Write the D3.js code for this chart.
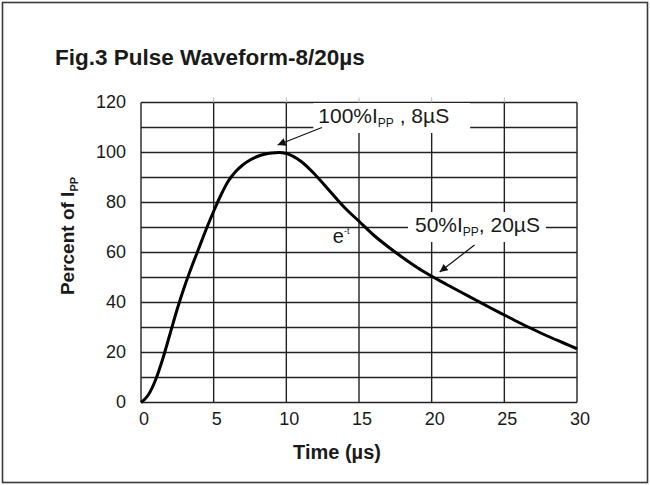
<!DOCTYPE html>
<html>
<head>
<meta charset="UTF-8">
<title>Pulse Waveform 8/20us</title>
<script src="https://d3js.org/d3.v7.min.js"></script>
<style>
  body { margin: 0; background: #fff; }
  text { font-family: "Liberation Sans", Arial, sans-serif; fill: #1a1a1a; }
</style>
</head>
<body>
<div id="chart"></div>
<script>
// waveform (time in µs, percent of Ipp)
var timeUs = [0, 0.5, 1, 1.5, 2, 2.5, 3, 3.5, 4, 4.5, 5, 5.5, 6, 6.5, 7, 7.5, 8, 8.5, 9, 9.5,
              10, 11, 12, 13, 14, 15, 16, 17, 18, 19, 20, 21, 22, 23, 24, 25, 26, 27, 28, 29, 30];
var percentIpp = [0, 3, 9, 17.5, 27.5, 37.5, 46.5, 54.5, 62, 69.5, 76.5, 83, 88.5, 92.3, 95, 97, 98.4, 99.3, 99.8, 100,
                  99.6, 96.5, 91, 84.5, 78, 72.5, 67, 62.3, 58, 54, 50.5, 47.3, 44.2, 41.1, 38, 35, 32, 29.2, 26.5, 24, 21.5];

var xTicks = [0, 5, 10, 15, 20, 25, 30];
var yTicks = [0, 20, 40, 60, 80, 100, 120];
var yGrid = [0, 10, 20, 30, 40, 50, 60, 70, 80, 90, 100, 110, 120];

var W = 650, H = 485;
var svg = d3.select("#chart").append("svg")
    .attr("width", W).attr("height", H);

// outer frame of the figure
svg.append("rect")
    .attr("x", 2.5).attr("y", 2.5).attr("width", W - 5).attr("height", H - 5)
    .attr("fill", "none").attr("stroke", "#3a3a3a").attr("stroke-width", 1.6);

var x = d3.scaleLinear().domain([0, 30]).range([141, 577]);
var y = d3.scaleLinear().domain([0, 120]).range([402.5, 102.5]);

// title
svg.append("text")
    .attr("x", 55).attr("y", 65)
    .style("font-size", "22.5px").style("font-weight", "bold")
    .text("Fig.3 Pulse Waveform-8/20µs");

// grid
var grid = svg.append("g").attr("stroke", "#222").attr("stroke-width", 1.4);
grid.selectAll(".h").data(yGrid).enter().append("line")
    .attr("x1", x(0)).attr("x2", x(30))
    .attr("y1", d => y(d)).attr("y2", d => y(d));
grid.selectAll(".v").data(xTicks).enter().append("line")
    .attr("x1", d => x(d)).attr("x2", d => x(d))
    .attr("y1", y(0)).attr("y2", y(120));
// small stubs above the top of the frame
grid.selectAll(".stub").data(xTicks.slice(1, -1)).enter().append("line")
    .attr("x1", d => x(d)).attr("x2", d => x(d))
    .attr("y1", y(120)).attr("y2", y(120) - 5)
    .attr("stroke", "#bbb").attr("stroke-width", 1);

// tick labels
svg.append("g").selectAll("text").data(yTicks).enter().append("text")
    .attr("x", 126).attr("y", d => y(d) + 1)
    .attr("text-anchor", "end").attr("dominant-baseline", "middle")
    .style("font-size", "18px")
    .text(d => d);
svg.append("g").selectAll("text").data(xTicks).enter().append("text")
    .attr("x", d => x(d) + 3).attr("y", 425)
    .attr("text-anchor", "middle")
    .style("font-size", "18px")
    .text(d => d);

// axis titles
svg.append("text")
    .attr("x", 337).attr("y", 459)
    .attr("text-anchor", "middle")
    .style("font-size", "20px").style("font-weight", "bold")
    .text("Time (µs)");

var yt = svg.append("text")
    .attr("transform", "translate(74,236) rotate(-90)")
    .attr("text-anchor", "middle")
    .style("font-size", "19px").style("font-weight", "bold");
yt.append("tspan").text("Percent of I");
yt.append("tspan").attr("dy", 4).style("font-size", "11px").text("PP");

// annotations: label text broken into the grid on a white patch
function label(tx, ty, main, tail, padL, padR) {
  var g = svg.append("g");
  var bg = g.append("rect").attr("fill", "#fff");
  var t = g.append("text")
      .attr("x", x(tx)).attr("y", y(ty))
      .style("font-size", "21px");
  t.append("tspan").text(main);
  t.append("tspan").attr("dy", 4).style("font-size", "12px").text("PP");
  t.append("tspan").attr("dy", -4).text(tail);
  var b = t.node().getBBox();
  bg.attr("x", b.x - padL).attr("y", b.y - 1)
    .attr("width", b.width + padL + padR).attr("height", b.height + 4);
}
label(12.2, 111.8, "100%I", " , 8µS", 5, 21);
label(18.85, 68.2, "50%I", ", 20µS", 7, 6);

var e = svg.append("text")
    .attr("x", x(13.2)).attr("y", y(63.8))
    .style("font-size", "20px");
e.append("tspan").text("e");
e.append("tspan").attr("dy", -9).style("font-size", "9px").text("-t");

// waveform
var line = d3.line()
    .x((d, i) => x(timeUs[i]))
    .y(d => y(d))
    .curve(d3.curveMonotoneX);
svg.append("path")
    .datum(percentIpp)
    .attr("d", line)
    .attr("fill", "none")
    .attr("stroke", "#000")
    .attr("stroke-width", 3);

// arrows
svg.append("defs").append("marker")
    .attr("id", "head")
    .attr("viewBox", "0 0 10 10")
    .attr("refX", 10).attr("refY", 5)
    .attr("markerWidth", 11).attr("markerHeight", 8)
    .attr("markerUnits", "userSpaceOnUse")
    .attr("orient", "auto")
    .append("path").attr("d", "M0,0L10,5L0,10z").attr("fill", "#111");

var arrows = [
  {from: [12.45, 110], to: [9.4, 103]},
  {from: [22.95, 63], to: [20.55, 52.2]}
];
svg.selectAll(".arrow").data(arrows).enter().append("line")
    .attr("x1", d => x(d.from[0])).attr("y1", d => y(d.from[1]))
    .attr("x2", d => x(d.to[0])).attr("y2", d => y(d.to[1]))
    .attr("stroke", "#111").attr("stroke-width", 1.2)
    .attr("marker-end", "url(#head)");
</script>
</body>
</html>
